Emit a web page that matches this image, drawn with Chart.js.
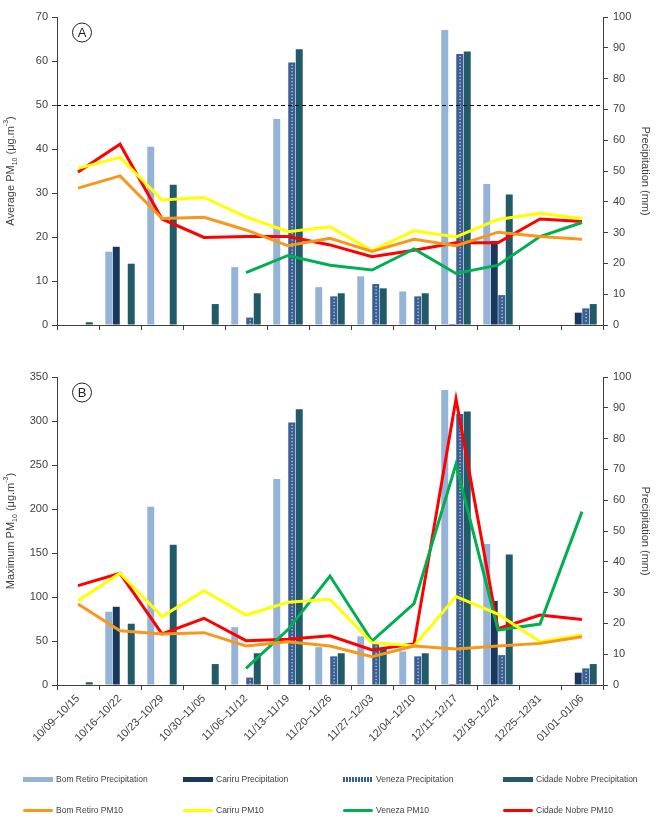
<!DOCTYPE html>
<html><head><meta charset="utf-8">
<script src="https://cdn.jsdelivr.net/npm/chart.js@4"></script>
<style>
body{margin:0;background:#fff;width:657px;height:825px;position:relative;overflow:hidden;font-family:"Liberation Sans",Arial,sans-serif}
#cA{position:absolute;left:0;top:0}
#cB{position:absolute;left:0;top:345px}
#legend{position:absolute;left:0;top:0;width:657px;height:825px;pointer-events:none}
.item{position:absolute;display:flex;align-items:center;font-size:8.5px;color:#404040;white-space:nowrap;height:12px}
.mk{display:inline-block;width:30px;margin-right:3px}
</style></head><body>
<canvas id="cA" width="657" height="340"></canvas>
<canvas id="cB" width="657" height="420"></canvas>
<div id="legend"></div>
<script>
// ---- data ----
const categories = ['10/09–10/15','10/16–10/22','10/23–10/29','10/30–11/05','11/06–11/12','11/13–11/19','11/20–11/26','11/27–12/03','12/04–12/10','12/11–12/17','12/18–12/24','12/25–12/31','01/01–01/06'];

const bomRetiroPrecip   = [null, 23.8, 57.9, null, 18.8, 66.9, 12.3, 15.8, 10.9, 95.8, 45.8, null, null];
const cariruPrecip      = [null, 25.4, null, null, null, null, null, null, null, 0.3, 27.3, null, 4.0];
const venezaPrecip      = [null, null, null, null, 2.4, 85.2, 9.3, 13.3, 9.3, 88.0, 9.7, null, 5.4];
const cidadeNobrePrecip = [0.9, 19.9, 45.5, 6.8, 10.3, 89.5, 10.3, 11.9, 10.3, 88.8, 42.4, null, 6.8];

const bomRetiroAvg   = [31.1, 33.9, 24.2, 24.5, 21.6, 18.0, 19.7, 16.7, 19.5, 18.0, 21.1, 20.1, 19.5];
const cariruAvg      = [35.6, 38.1, 28.4, 29.0, 24.6, 21.2, 22.3, 16.9, 21.4, 20.0, 24.0, 25.4, 24.2];
const venezaAvg      = [null, null, null, null, 11.9, 15.8, 13.6, 12.5, 17.3, 11.7, 13.6, 20.1, 23.3];
const cidadeNobreAvg = [34.8, 41.1, 24.1, 19.9, 20.1, 20.1, 18.2, 15.5, 17.0, 18.7, 18.7, 24.1, 23.5];

const bomRetiroMax   = [92.0, 61.7, 58.0, 59.5, 44.3, 49.2, 44.3, 32.2, 44.3, 41.0, 44.3, 47.3, 54.9];
const cariruMax      = [95.8, 127.0, 77.7, 107.2, 79.5, 94.0, 97.3, 48.1, 44.3, 100.4, 80.5, 49.2, 56.8];
const venezaMax      = [null, null, null, null, 19.0, 63.0, 123.9, 50.0, 92.5, 251.0, 62.5, 69.3, 197.0];
const cidadeNobreMax = [112.9, 126.9, 58.0, 75.8, 50.4, 51.9, 56.0, 39.8, 46.6, 325.0, 64.0, 79.5, 74.3];

const avgTicks = {min: 0, max: 70, step: 10};
const maxTicks = {min: 0, max: 350, step: 50};
const precipTicks = {min: 0, max: 100, step: 10};
const pmLimit = 50;

const barNames = ['Bom Retiro Precipitation','Cariru Precipitation','Veneza Precipitation','Cidade Nobre Precipitation'];
const lineNames = ['Bom Retiro PM10','Cariru PM10','Veneza PM10','Cidade Nobre PM10'];

// ---- styles ----
const barColors = ['#95B3D7','#17375E','#3A5F94','#215A68'];
const lineColors = ['#F7981D','#FFFF00','#00B050','#FF0000'];
const AX = '#404040';
const FONT = '"Liberation Sans", Arial, sans-serif';

function richText(ctx, segs, cx, cy, rot, size, color){
  ctx.save();
  ctx.translate(cx, cy); ctx.rotate(rot);
  const base = size + 'px ' + FONT, small = Math.round(size*0.68) + 'px ' + FONT;
  let total = 0;
  segs.forEach(s => { ctx.font = (s.sub||s.sup) ? small : base; s.w = ctx.measureText(s.t).width; total += s.w; });
  let x = -total/2;
  ctx.fillStyle = color; ctx.textBaseline = 'middle'; ctx.textAlign = 'left';
  segs.forEach(s => {
    ctx.font = (s.sub||s.sup) ? small : base;
    const dy = s.sub ? size*0.35 : (s.sup ? -size*0.45 : 0);
    ctx.fillText(s.t, x, dy); x += s.w;
  });
  ctx.restore();
}

const decorPlugin = {
  id: 'decor',
  afterDatasetDraw(chart, args){
    const ds = chart.data.datasets[args.index];
    if (ds.label !== barNames[2]) return;
    const ctx = chart.ctx; ctx.save();
    ctx.fillStyle = 'rgba(255,255,255,0.85)';
    args.meta.data.forEach((bar, i) => {
      if (ds.data[i] == null) return;
      const p = bar.getProps(['x','y','base']);
      for (let yy = p.y + 2; yy < p.base - 1; yy += 3.3) ctx.fillRect(Math.round(p.x) - 0.5, yy, 1.2, 1.2);
    });
    ctx.restore();
  },
  afterDraw(chart){
    const o = chart.options.plugins.decor; const ctx = chart.ctx; const a = chart.chartArea;
    if (o.limit != null){
      const y = Math.round(chart.scales.y.getPixelForValue(o.limit)) + 0.5;
      ctx.save(); ctx.strokeStyle = '#000'; ctx.lineWidth = 1; ctx.setLineDash([4,3]);
      ctx.beginPath(); ctx.moveTo(a.left, y); ctx.lineTo(a.right, y); ctx.stroke(); ctx.restore();
    }
    // circled panel letter
    ctx.save(); ctx.strokeStyle = '#222'; ctx.lineWidth = 1;
    ctx.beginPath(); ctx.arc(a.left + 25, a.top + 15.5, 9.5, 0, Math.PI*2); ctx.stroke();
    ctx.fillStyle = '#222'; ctx.font = '13px ' + FONT; ctx.textAlign = 'center'; ctx.textBaseline = 'middle';
    ctx.fillText(o.letter, a.left + 25, a.top + 16.5); ctx.restore();
    const cy = (a.top + a.bottom)/2;
    richText(ctx, o.leftTitle, 11, cy, -Math.PI/2, 11, AX);
    richText(ctx, [{t:'Precipitation (mm)'}], 645, cy, Math.PI/2, 11, AX);
  }
};

function makeChart(id, pmSeries, pmTicks, opts){
  const datasets = [];
  pmSeries.forEach((d, i) => datasets.push({type:'line', label: lineNames[i], data: d, yAxisID:'y',
    borderColor: lineColors[i], backgroundColor: lineColors[i], borderWidth: 3, pointRadius: 0, tension: 0, fill:false}));
  [bomRetiroPrecip, cariruPrecip, venezaPrecip, cidadeNobrePrecip].forEach((d, i) => datasets.push({type:'bar', label: barNames[i], data: d,
    yAxisID:'y1', backgroundColor: barColors[i], borderWidth: 0, categoryPercentage: 0.714, barPercentage: 0.93}));
  return new Chart(document.getElementById(id), {
    type: 'bar',
    data: {labels: categories, datasets},
    plugins: [decorPlugin],
    options: {
      responsive: false, animation: false, devicePixelRatio: 1,
      layout: {padding: {top: opts.padTop, left: 0, right: 0, bottom: 0}},
      plugins: {legend: {display: false}, tooltip: {enabled: false}, decor: opts.decor},
      scales: {
        x: {
          grid: {display: true, drawOnChartArea: false, drawTicks: true, tickLength: 5, color: AX, offset: true},
          border: {display: true, color: AX, width: 1},
          ticks: {display: opts.showX, autoSkip: false, minRotation: 45, maxRotation: 45, color: AX, font: {size: 11, family: FONT}, padding: 2},
          afterFit: s => { s.height = opts.xHeight; }
        },
        y: {
          position: 'left', min: pmTicks.min, max: pmTicks.max,
          ticks: {stepSize: pmTicks.step, color: AX, font: {size: 11, family: FONT}, padding: 4},
          grid: {display: true, drawOnChartArea: false, drawTicks: true, tickLength: 5, color: AX},
          border: {display: true, color: AX, width: 1},
          afterFit: s => { s.width = 57; }
        },
        y1: {
          position: 'right', min: precipTicks.min, max: precipTicks.max,
          ticks: {stepSize: precipTicks.step, color: AX, font: {size: 11, family: FONT}, padding: 5},
          grid: {display: true, drawOnChartArea: false, drawTicks: true, tickLength: 5, color: AX},
          border: {display: true, color: AX, width: 1},
          afterFit: s => { s.width = 54; }
        }
      }
    }
  });
}

makeChart('cA', [bomRetiroAvg, cariruAvg, venezaAvg, cidadeNobreAvg], avgTicks,
  {padTop: 17, showX: false, xHeight: 15, decor: {limit: pmLimit, letter: 'A',
    leftTitle: [{t:'Average PM'},{t:'10',sub:true},{t:' (μg.m'},{t:'-3',sup:true},{t:')'}]}});
makeChart('cB', [bomRetiroMax, cariruMax, venezaMax, cidadeNobreMax], maxTicks,
  {padTop: 32, showX: true, xHeight: 80, decor: {limit: null, letter: 'B',
    leftTitle: [{t:'Maximum PM'},{t:'10',sub:true},{t:' (μg.m'},{t:'-3',sup:true},{t:')'}]}});

// ---- legend ----
const lg = document.getElementById('legend');
const colX = [23, 183, 343, 503];
const rowY = [779, 810];
function addItem(name, color, x, y, isLine){
  const d = document.createElement('div'); d.className = 'item';
  d.style.left = x + 'px'; d.style.top = (y - 6) + 'px';
  const m = document.createElement('span'); m.className = 'mk';
  m.style.background = color; m.style.height = isLine ? '3px' : '5px';
  if (!isLine && name === barNames[2]) m.style.background = 'repeating-linear-gradient(90deg,' + color + ' 0 2px, rgba(255,255,255,0.8) 2px 3px)';
  if (isLine) m.style.borderRadius = '2px';
  d.appendChild(m); d.appendChild(document.createTextNode(name)); lg.appendChild(d);
}
barNames.forEach((n, i) => addItem(n, barColors[i], colX[i], rowY[0], false));
lineNames.forEach((n, i) => addItem(n, lineColors[i], colX[i], rowY[1], true));
</script>
</body></html>
